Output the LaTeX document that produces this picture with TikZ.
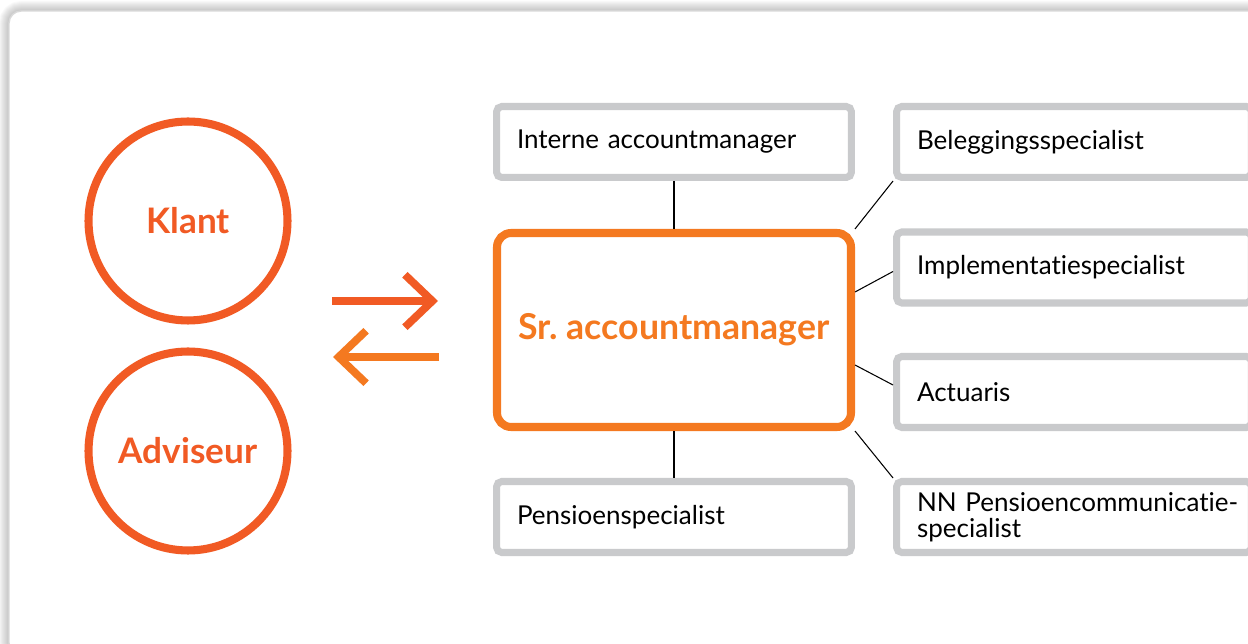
\documentclass[tikz,border=0pt]{standalone}
\usepackage{fontspec}
\setmainfont{Lato}[Ligatures=NoCommon]
\usetikzlibrary{arrows.meta, calc, positioning}
\definecolor{nnred}{HTML}{F15A24}
\definecolor{nnorange}{HTML}{F47920}
\definecolor{boxgray}{HTML}{C9CACC}
\tikzset{
>={Straight Barb[length=5.5mm,width=10.5mm]}, % open arrow heads
party/.style={circle, draw=nnred, line width=4.6pt, minimum size=3.98cm, inner sep=0pt,
  text=nnred, font=\fontsize{20}{22}\selectfont\bfseries}, % client and adviser
manager/.style={draw=nnorange, line width=4.6pt, rounded corners=8pt,
  minimum width=7.08cm, minimum height=3.88cm,
  text=nnorange, font=\fontsize{20.3}{22}\selectfont\bfseries}, % the central role
role/.style={draw=boxgray, line width=4pt, rounded corners=3pt,
  minimum height=1.42cm, text width=6.28cm, inner xsep=0.41cm, align=left,
  font=\fontsize{14.8}{15}\selectfont}, % the supporting roles
link/.style={line width=0.6pt}, % thin connectors
swap/.style={line width=4.4pt, ->}, % exchange arrows
}

\begin{document}
\begin{tikzpicture}[x=0.02cm, y=-0.02cm]
  \useasboundingbox (0,0) rectangle (1248,644);
  % card with soft shadow
  \foreach \s in {2,4,...,20}
    \draw[black, opacity=0.025, line width=\s*0.57pt, rounded corners=7pt] (9,11) rectangle (1280,655);
  \draw[fill=white, draw=black!15, line width=0.8pt, rounded corners=7pt] (9,11) rectangle (1280,655);

  \node[party] (klant) at (188,221) {Klant};
  \node[party] (adviseur) at (188,451) {Adviseur};

  \node[manager] (sr) at (674,330) {Sr.\ accountmanager};
  \node[role] (int) at (674,142) {Interne accountmanager};
  \node[role] (pen) at (674,517) {Pensioenspecialist};

  \node[role] (bel) at (1074,142) {Beleggingsspecialist};
  \node[role] (imp) at (1074,267.5) {Implementatiespecialist};
  \node[role] (act) at (1074,392) {Actuaris};
  \node[role] (nn) at (1074,517) {\mbox{NN Pensioencommunicatie-}\\specialist};

  \draw[link] (int) -- (sr);
  \draw[link] (sr) -- (pen);
  \draw[link] (sr.north east) -- (bel.south west);
  \draw[link] ($(sr.east)+(0,-38)$) -- ($(imp.west)+(0,4)$);
  \draw[link] ($(sr.east)+(0,35)$) -- ($(act.west)+(0,-7)$);
  \draw[link] (sr.south east) -- (nn.north west);

  \coordinate (to sr) at (438,301);
  \coordinate (from sr) at (439,357);
  \draw[swap, nnred] (332,301) -- (to sr);
  \draw[swap, nnorange] (from sr) -- (333,357);
\end{tikzpicture}
\end{document}
